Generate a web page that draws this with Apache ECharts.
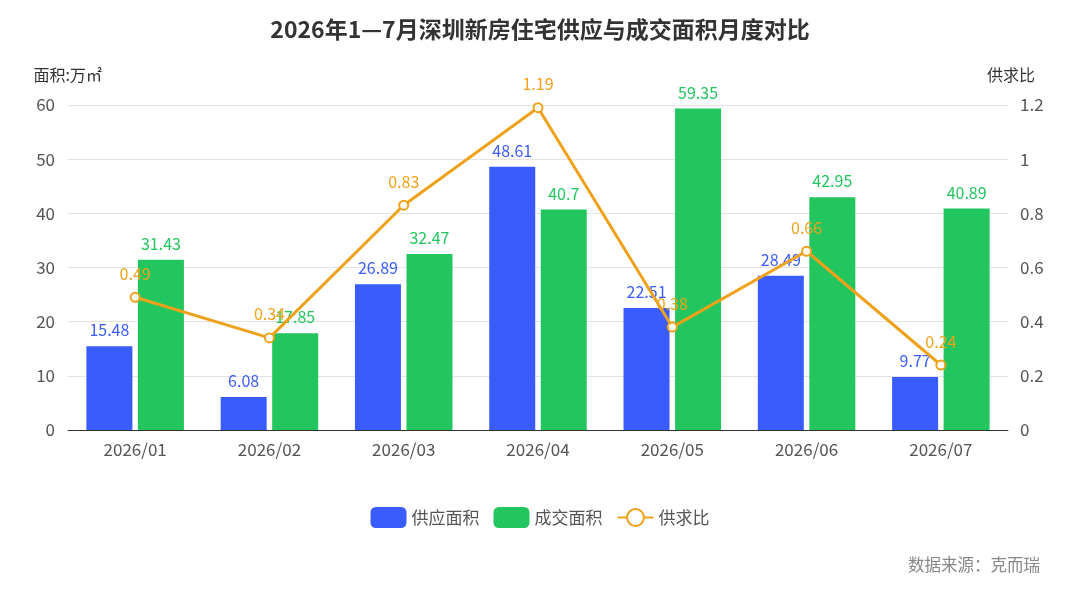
<!DOCTYPE html>
<html>
<head>
<meta charset="utf-8">
<title>2026年1—7月深圳新房住宅供应与成交面积月度对比</title>
<script src="https://cdn.jsdelivr.net/npm/echarts@6/dist/echarts.min.js"></script>
<style>
  html, body { margin: 0; padding: 0; background: #fff; }
  #main { width: 1080px; height: 589px; }
</style>
</head>
<body>
<div id="main"></div>
<script>
// 月份
var months = ['2026/01', '2026/02', '2026/03', '2026/04', '2026/05', '2026/06', '2026/07'];
// 供应面积（万㎡）
var supplyArea = [15.48, 6.08, 26.89, 48.61, 22.51, 28.49, 9.77];
// 成交面积（万㎡）
var dealArea = [31.43, 17.85, 32.47, 40.7, 59.35, 42.95, 40.89];
// 供求比
var ratio = [0.49, 0.34, 0.83, 1.19, 0.38, 0.66, 0.24];

var FONT = '"Noto Sans CJK SC", "Noto Sans", sans-serif';
var BLUE = '#3a5cff';
var GREEN = '#22c55e';
var ORANGE = '#eea21b';

var chart = echarts.init(document.getElementById('main'));

var option = {
  textStyle: { fontFamily: FONT },
  title: [{
    text: '2026年1—7月深圳新房住宅供应与成交面积月度对比',
    left: 'center',
    top: 13,
    textStyle: { fontSize: 23, fontWeight: 'bold', color: '#333', fontFamily: FONT }
  }, {
    text: '数据来源：克而瑞',
    right: 35,
    bottom: 11,
    textStyle: { fontSize: 16.5, fontWeight: 'normal', color: '#888', fontFamily: FONT }
  }],
  legend: {
    bottom: 56,
    left: 'center',
    itemWidth: 36,
    itemHeight: 21,
    itemGap: 14,
    textStyle: { fontSize: 17, color: '#555' },
    data: ['供应面积', '成交面积', '供求比']
  },
  grid: { left: 68, right: 72, top: 105, bottom: 159 },
  xAxis: {
    type: 'category',
    data: months,
    axisTick: { show: false },
    axisLine: { lineStyle: { color: '#333' } },
    axisLabel: { fontSize: 17, color: '#555', margin: 11 }
  },
  yAxis: [{
    type: 'value',
    name: '面积:万㎡',
    nameLocation: 'end',
    nameGap: 22,
    nameTextStyle: { fontSize: 16, color: '#333', align: 'right', padding: [0, -34, 0, 0] },
    min: 0, max: 60, interval: 10,
    axisLabel: { fontSize: 17, color: '#555', margin: 13 },
    splitLine: { lineStyle: { color: '#e3e3e3' } }
  }, {
    type: 'value',
    name: '供求比',
    nameLocation: 'end',
    nameGap: 22,
    nameTextStyle: { fontSize: 16, color: '#333', align: 'right', padding: [0, -27, 0, 0] },
    min: 0, max: 1.2, interval: 0.2,
    axisLabel: { fontSize: 17, color: '#555', margin: 12 },
    splitLine: { show: false }
  }],
  series: [{
    name: '供应面积',
    type: 'bar',
    data: supplyArea,
    barWidth: 46,
    barGap: '12%',
    itemStyle: { color: BLUE },
    label: { show: true, position: 'top', color: BLUE, fontSize: 16, distance: 8 }
  }, {
    name: '成交面积',
    type: 'bar',
    data: dealArea,
    barWidth: 46,
    itemStyle: { color: GREEN },
    label: { show: true, position: 'top', color: GREEN, fontSize: 16, distance: 8 }
  }, {
    name: '供求比',
    type: 'line',
    yAxisIndex: 1,
    data: ratio,
    symbol: 'emptyCircle',
    symbolSize: 9,
    lineStyle: { color: ORANGE, width: 3 },
    itemStyle: { color: ORANGE, borderWidth: 2.5 },
    label: { show: true, position: 'top', color: ORANGE, fontSize: 16, distance: 10 },
    z: 5
  }]
};

chart.setOption(option);
</script>
</body>
</html>
